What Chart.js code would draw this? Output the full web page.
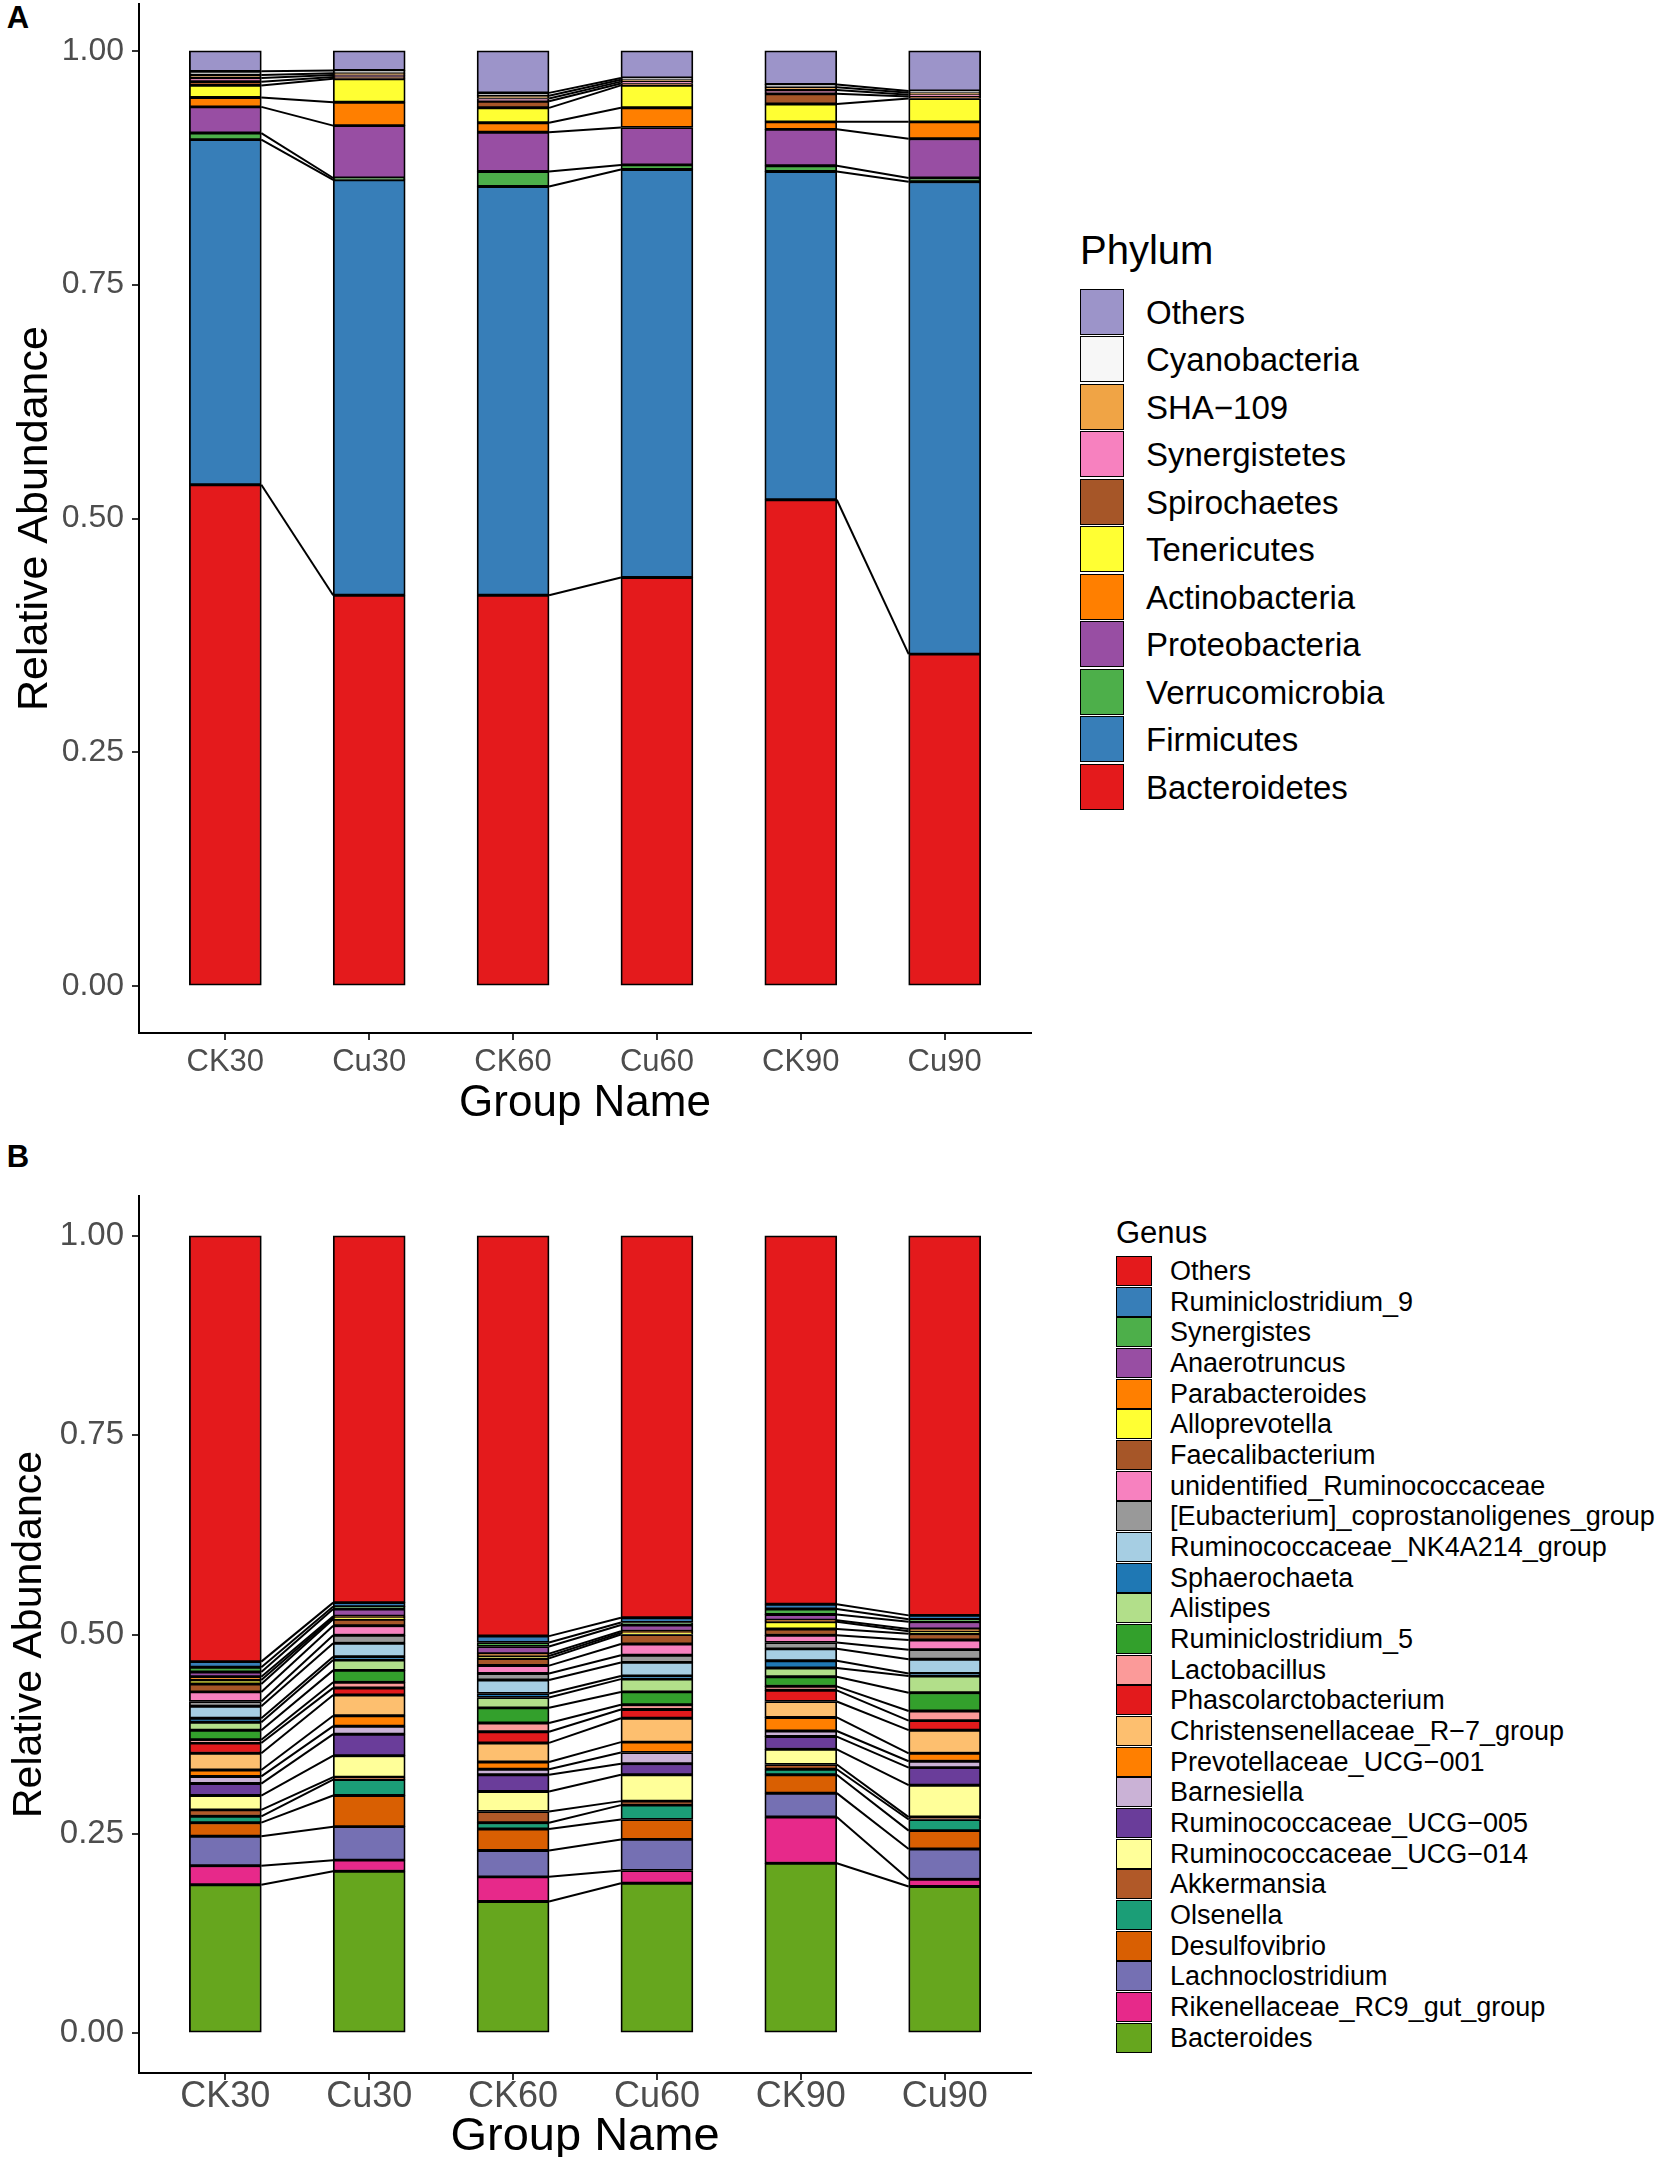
<!DOCTYPE html>
<html>
<head>
<meta charset="utf-8">
<script src="https://cdn.jsdelivr.net/npm/chart.js@4.4.1/dist/chart.umd.min.js"></script>
<style>
  html, body { margin: 0; padding: 0; background: #fff; width: 1655px; height: 2157px; overflow: hidden; position: relative; font-family: "Liberation Sans", Arial, sans-serif; }
  canvas { position: absolute; left: 0; }
  #chartA { top: 0; }
  #chartB { top: 1150px; }
  .panel { position: absolute; font-weight: bold; font-size: 31px; line-height: 1; transform: translate(-50%, -50%); }
  .lg-title, .lg-label { position: absolute; white-space: nowrap; line-height: 1; transform: translateY(-50%); color: #000; }
  .lg-key { position: absolute; box-sizing: border-box; border: 1.5px solid #000; }
</style>
</head>
<body>
<div class="panel" style="left:18px; top:17px;">A</div>
<div class="panel" style="left:18px; top:1156px;">B</div>
<canvas id="chartA" width="1060" height="1150"></canvas>
<canvas id="chartB" width="1060" height="1020"></canvas>
<div id="legendA"></div>
<div id="legendB"></div>
<script>
// groups on the x axis
const groups = ["CK30", "Cu30", "CK60", "Cu60", "CK90", "Cu90"];
const yTicks = [0, 0.25, 0.5, 0.75, 1.0];

// Phylum level, stacked bottom -> top
const phylumNames = ["Bacteroidetes", "Firmicutes", "Verrucomicrobia", "Proteobacteria", "Actinobacteria",
  "Tenericutes", "Spirochaetes", "Synergistetes", "SHA\u2212109", "Cyanobacteria", "Others"];
const phylumColors = ["#E41A1C", "#377EB8", "#4DAF4A", "#984EA3", "#FF7F00",
  "#FFFF33", "#A65628", "#F781BF", "#F0A445", "#F7F7F7", "#9C94C9"];

const ck30A = [0.536, 0.369, 0.007, 0.028, 0.010, 0.013, 0.004, 0.004, 0.003, 0.004, 0.022];
const cu30A = [0.418, 0.444, 0.002, 0.056, 0.025, 0.025, 0.002, 0.002, 0.002, 0.003, 0.021];
const ck60A = [0.418, 0.437, 0.016, 0.042, 0.010, 0.016, 0.007, 0.003, 0.003, 0.003, 0.045];
const cu60A = [0.437, 0.436, 0.005, 0.040, 0.021, 0.024, 0.002, 0.002, 0.002, 0.002, 0.029];
const ck90A = [0.520, 0.351, 0.006, 0.039, 0.008, 0.019, 0.011, 0.004, 0.003, 0.003, 0.036];
const cu90A = [0.355, 0.505, 0.004, 0.042, 0.018, 0.025, 0.002, 0.002, 0.002, 0.002, 0.043];

// Genus level, stacked bottom -> top
const genusNames = ["Bacteroides", "Rikenellaceae_RC9_gut_group", "Lachnoclostridium", "Desulfovibrio", "Olsenella",
  "Akkermansia", "Ruminococcaceae_UCG\u2212014", "Ruminococcaceae_UCG\u2212005", "Barnesiella", "Prevotellaceae_UCG\u2212001",
  "Christensenellaceae_R\u22127_group", "Phascolarctobacterium", "Lactobacillus", "Ruminiclostridium_5", "Alistipes",
  "Sphaerochaeta", "Ruminococcaceae_NK4A214_group", "[Eubacterium]_coprostanoligenes_group", "unidentified_Ruminococcaceae",
  "Faecalibacterium", "Alloprevotella", "Parabacteroides", "Anaerotruncus", "Synergistes", "Ruminiclostridium_9", "Others"];
const genusColors = ["#66A61E", "#E7298A", "#7570B3", "#D95F02", "#1B9E77",
  "#B15928", "#FFFF99", "#6A3D9A", "#CAB2D6", "#FF7F00",
  "#FDBF6F", "#E31A1C", "#FB9A99", "#33A02C", "#B2DF8A",
  "#1F78B4", "#A6CEE3", "#999999", "#F781BF",
  "#A65628", "#FFFF33", "#FF7F00", "#984EA3", "#4DAF4A", "#377EB8", "#E41A1C"];

const ck30B = [0.186, 0.024, 0.037, 0.017, 0.008, 0.008, 0.018, 0.015, 0.009, 0.008, 0.021, 0.013, 0.004, 0.012, 0.010, 0.005, 0.015, 0.006, 0.012, 0.010, 0.005, 0.004, 0.006, 0.006, 0.007, 0.534];
const cu30B = [0.203, 0.014, 0.042, 0.039, 0.020, 0.003, 0.027, 0.027, 0.010, 0.013, 0.026, 0.009, 0.007, 0.015, 0.013, 0.004, 0.017, 0.010, 0.012, 0.008, 0.002, 0.002, 0.009, 0.003, 0.005, 0.460];
const ck60B = [0.165, 0.031, 0.033, 0.027, 0.008, 0.014, 0.025, 0.021, 0.007, 0.009, 0.024, 0.014, 0.011, 0.019, 0.013, 0.005, 0.017, 0.008, 0.010, 0.009, 0.003, 0.003, 0.009, 0.005, 0.008, 0.502];
const cu60B = [0.188, 0.016, 0.039, 0.025, 0.018, 0.005, 0.033, 0.014, 0.014, 0.013, 0.030, 0.011, 0.006, 0.016, 0.016, 0.004, 0.017, 0.009, 0.014, 0.012, 0.002, 0.002, 0.008, 0.003, 0.006, 0.479];
const ck90B = [0.213, 0.058, 0.030, 0.023, 0.007, 0.006, 0.019, 0.016, 0.007, 0.017, 0.020, 0.014, 0.005, 0.012, 0.011, 0.009, 0.015, 0.008, 0.009, 0.008, 0.009, 0.002, 0.007, 0.007, 0.006, 0.462];
const cu90B = [0.184, 0.009, 0.038, 0.023, 0.014, 0.003, 0.040, 0.022, 0.008, 0.010, 0.029, 0.012, 0.012, 0.023, 0.021, 0.003, 0.018, 0.012, 0.012, 0.008, 0.003, 0.003, 0.009, 0.003, 0.005, 0.476];

Chart.defaults.font.family = '"Liberation Sans", Arial, sans-serif';

// lines joining the top of each layer between CK and Cu bars
const linkPlugin = {
  id: "links",
  afterDatasetsDraw(chart) {
    const ctx = chart.ctx;
    const n = chart.data.datasets.length;
    ctx.save();
    ctx.strokeStyle = "#000";
    ctx.lineWidth = 2;
    for (let d = 0; d < n - 1; d++) {
      const bars = chart.getDatasetMeta(d).data;
      for (let i = 0; i + 1 < bars.length; i += 2) {
        const a = bars[i], b = bars[i + 1];
        ctx.beginPath();
        ctx.moveTo(a.x + a.width / 2, a.y);
        ctx.lineTo(b.x - b.width / 2, b.y);
        ctx.stroke();
      }
    }
    ctx.restore();
  }
};

function makeChart(id, names, colors, groupValues, cfg) {
  const datasets = names.map((name, k) => ({
    label: name,
    data: groupValues.map((vals, i) => ({ x: i, y: vals[k] })),
    backgroundColor: colors[k],
    borderColor: "#000",
    borderWidth: 1.8,
    borderSkipped: false,
    barThickness: 72
  }));

  const axisGrid = { display: true, drawOnChartArea: false, drawTicks: true, tickLength: 7, color: "#333", lineWidth: 2, offset: false };
  const axisBorder = { display: true, color: "#000", width: 2 };

  return new Chart(document.getElementById(id), {
    type: "bar",
    data: { datasets },
    plugins: [linkPlugin],
    options: {
      responsive: false,
      animation: false,
      devicePixelRatio: 1,
      layout: { padding: { top: cfg.padTop, right: 29, left: 0, bottom: 0 } },
      plugins: { legend: { display: false }, tooltip: { enabled: false } },
      scales: {
        x: {
          type: "linear",
          stacked: true,
          offset: false,
          min: -0.6,
          max: 5.6,
          afterBuildTicks: (axis) => { axis.ticks = groups.map((g, i) => ({ value: i })); },
          afterFit: (s) => { s.height = cfg.xHeight; s.paddingLeft = 0; s.paddingRight = 0; },
          grid: axisGrid,
          border: axisBorder,
          ticks: {
            autoSkip: false, maxRotation: 0, color: "#4D4D4D",
            font: { size: cfg.xTickSize }, padding: cfg.xTickPad,
            callback: (v) => groups[v]
          },
          title: {
            display: true, text: "Group Name", color: "#000",
            font: { size: cfg.xTitleSize }, padding: { top: 0, bottom: cfg.xTitlePad }
          }
        },
        y: {
          stacked: true,
          min: -0.05,
          max: 1.05,
          afterBuildTicks: (axis) => { axis.ticks = yTicks.map((v) => ({ value: v })); },
          afterFit: (s) => { s.width = 139; s.paddingTop = 0; s.paddingBottom = 0; },
          grid: axisGrid,
          border: axisBorder,
          ticks: {
            color: "#4D4D4D", font: { size: cfg.yTickSize }, padding: 8,
            callback: (v) => Number(v).toFixed(2)
          },
          title: {
            display: true, text: "Relative Abundance", color: "#000",
            font: { size: cfg.yTitleSize }, padding: { top: cfg.yTitlePad, bottom: 0 }
          }
        }
      }
    }
  });
}

function drawLegend(id, title, names, colors, lc) {
  const box = document.getElementById(id);
  const t = document.createElement("div");
  t.className = "lg-title";
  t.textContent = title;
  t.style.left = lc.left + "px";
  t.style.top = lc.titleY + "px";
  t.style.fontSize = lc.titleSize + "px";
  box.appendChild(t);
  // legend lists the top layer first
  for (let j = 0; j < names.length; j++) {
    const k = names.length - 1 - j;
    const top = lc.firstTop + j * lc.step;
    const key = document.createElement("div");
    key.className = "lg-key";
    key.style.left = lc.left + "px";
    key.style.top = top + "px";
    key.style.width = lc.keyW + "px";
    key.style.height = lc.keyH + "px";
    key.style.background = colors[k];
    box.appendChild(key);
    const lab = document.createElement("div");
    lab.className = "lg-label";
    lab.textContent = names[k];
    lab.style.left = lc.labelX + "px";
    lab.style.top = (top + lc.keyH / 2) + "px";
    lab.style.fontSize = lc.labelSize + "px";
    box.appendChild(lab);
  }
}

makeChart("chartA", phylumNames, phylumColors, [ck30A, cu30A, ck60A, cu60A, ck90A, cu90A], {
  padTop: 4, xHeight: 117, xTickSize: 31, xTickPad: 4, xTitleSize: 44, xTitlePad: 20,
  yTickSize: 32, yTitleSize: 43, yTitlePad: 9
});
makeChart("chartB", genusNames, genusColors, [ck30B, cu30B, ck60B, cu60B, ck90B, cu90B], {
  padTop: 46, xHeight: 97, xTickSize: 36, xTickPad: -5, xTitleSize: 47, xTitlePad: 5,
  yTickSize: 33, yTitleSize: 41, yTitlePad: 5
});

drawLegend("legendA", "Phylum", phylumNames, phylumColors, {
  left: 1080, titleY: 250, titleSize: 40, firstTop: 288.5, step: 47.55, keyW: 44, keyH: 46, labelX: 1146, labelSize: 33
});
drawLegend("legendB", "Genus", genusNames, genusColors, {
  left: 1116, titleY: 1231.5, titleSize: 31, firstTop: 1256, step: 30.67, keyW: 36, keyH: 30, labelX: 1170, labelSize: 27
});
</script>
</body>
</html>
